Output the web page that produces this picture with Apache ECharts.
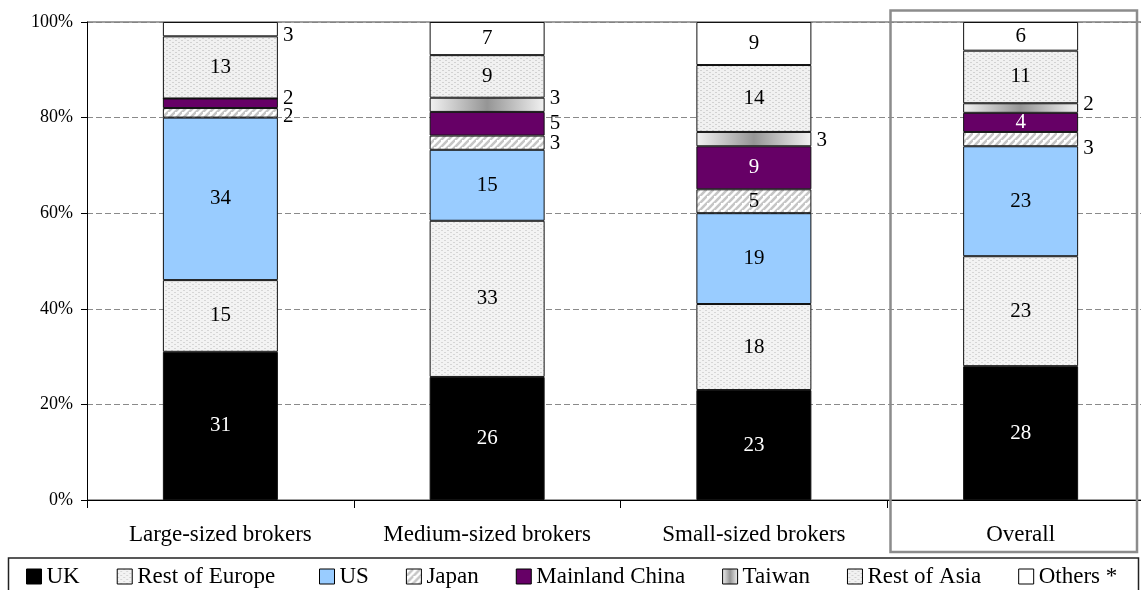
<!DOCTYPE html>
<html>
<head>
<meta charset="utf-8">
<style>
  html, body { margin: 0; padding: 0; background: #fff; overflow: hidden; }
  #chart { width: 1154px; height: 590px; }
</style>
<script src="https://cdn.jsdelivr.net/npm/echarts@6/dist/echarts.min.js"></script>
</head>
<body>
<div id="chart"></div>
<script>
// Broker groups and the share (%) of each region within each group
const categories = ['Large-sized brokers', 'Medium-sized brokers', 'Small-sized brokers', 'Overall'];
const uk            = [31, 26, 23, 28];
const restOfEurope  = [15, 33, 18, 23];
const us            = [34, 15, 19, 23];
const japan         = [2, 3, 5, 3];
const mainlandChina = [2, 5, 9, 4];
const taiwan        = [0, 3, 3, 2];
const restOfAsia    = [13, 9, 14, 11];
const others        = [3, 7, 9, 6];
const yTicks = [0, 20, 40, 60, 80, 100];

const FONT = "'Liberation Serif', 'Times New Roman', serif";

// Fill textures
function stipple(base, dot, shift) {
  const c = document.createElement('canvas');
  c.width = 6; c.height = 4;
  const g = c.getContext('2d');
  g.fillStyle = base; g.fillRect(0, 0, 6, 4);
  g.fillStyle = dot;
  g.fillRect(shift % 6, 0, 2, 1);
  g.fillRect((shift + 3) % 6, 2, 2, 1);
  return { image: c, repeat: 'repeat' };
}
function hatch() {
  const c = document.createElement('canvas');
  c.width = 7; c.height = 7;
  const g = c.getContext('2d');
  g.fillStyle = '#ffffff'; g.fillRect(0, 0, 7, 7);
  g.strokeStyle = '#c6c6c6'; g.lineWidth = 2.6;
  [-7, 0, 7].forEach(x0 => {
    g.beginPath(); g.moveTo(x0, 14); g.lineTo(x0 + 14, 0); g.stroke();
  });
  return { image: c, repeat: 'repeat' };
}
const metalGradient = {
  type: 'linear', x: 0, y: 0, x2: 1, y2: 0,
  colorStops: [
    { offset: 0, color: '#f2f2f2' },
    { offset: 0.5, color: '#959595' },
    { offset: 1, color: '#f2f2f2' }
  ]
};

const seriesDefs = [
  { name: 'UK',             values: uk,            color: '#000000', text: '#ffffff' },
  { name: 'Rest of Europe', values: restOfEurope,  color: stipple('#f3f3f3', '#d6d6d6', 0) },
  { name: 'US',             values: us,            color: '#99ccff' },
  { name: 'Japan',          values: japan,         color: hatch() },
  { name: 'Mainland China', values: mainlandChina, color: '#660066', text: '#ffffff' },
  { name: 'Taiwan',         values: taiwan,        color: metalGradient },
  { name: 'Rest of Asia',   values: restOfAsia,    color: stipple('#f1f1f1', '#d2d2d2', 1) },
  { name: 'Others *',       values: others,        color: '#ffffff' }
];

// Small segments carry their number beside the bar (vertical nudge in px)
const besideBar = {
  'Japan':          { 0: 4, 1: 1, 3: 9 },
  'Mainland China': { 0: -5, 1: 0 },
  'Taiwan':         { 1: -6, 2: 1, 3: -4 },
  'Others *':       { 0: 6 }
};

const totals = categories.map((_, i) => seriesDefs.reduce((s, d) => s + d.values[i], 0));

const series = seriesDefs.map(def => ({
  name: def.name,
  type: 'bar',
  stack: 'share',
  barWidth: 115,
  itemStyle: { color: def.color, borderColor: '#111', borderWidth: 1 },
  emphasis: { disabled: true },
  data: def.values.map((v, i) => {
    const outside = besideBar[def.name] && besideBar[def.name][i] !== undefined;
    return {
      value: v / totals[i] * 100,
      label: {
        show: v > 0,
        formatter: String(v),
        position: outside ? 'right' : 'inside',
        distance: 5,
        offset: outside ? [0, besideBar[def.name][i]] : [0, 0],
        color: outside ? '#000' : (def.text || '#000'),
        fontFamily: FONT,
        fontSize: 21
      }
    };
  })
}));

const legendCommon = {
  top: 565,
  icon: 'rect',
  itemWidth: 15,
  itemHeight: 15,
  itemGap: 37,
  padding: 0,
  selectedMode: false,
  itemStyle: { borderColor: '#000', borderWidth: 1 },
  textStyle: { fontFamily: FONT, fontSize: 23, color: '#000' }
};

const chart = echarts.init(document.getElementById('chart'), null, { renderer: 'canvas' });
chart.setOption({
  animation: false,
  backgroundColor: '#ffffff',
  grid: { left: 87, top: 22, bottom: 90, right: 0 },
  legend: [
    Object.assign({ left: 26, data: ['UK', 'Rest of Europe'] }, legendCommon),
    Object.assign({ left: 319, data: ['US', 'Japan', 'Mainland China', 'Taiwan', 'Rest of Asia', 'Others *'] }, legendCommon)
  ],
  graphic: [
    { type: 'rect', shape: { x: 890.5, y: 10.5, width: 246.5, height: 541.5 },
      style: { fill: 'none', stroke: '#8c8c8c', lineWidth: 2.5 }, z: 1, silent: true },
    { type: 'rect', shape: { x: 8.5, y: 558, width: 1130, height: 40 },
      style: { fill: 'none', stroke: '#222', lineWidth: 1.5 }, z: 1, silent: true }
  ],
  xAxis: {
    type: 'category',
    data: categories,
    axisLine: { lineStyle: { color: '#000', width: 1 } },
    axisTick: { show: true, length: 8, interval: 0, lineStyle: { color: '#000' } },
    axisLabel: { margin: 23, color: '#000', fontFamily: FONT, fontSize: 23, interval: 0 }
  },
  yAxis: [
    {
      type: 'value',
      min: yTicks[0],
      max: yTicks[yTicks.length - 1],
      interval: yTicks[1] - yTicks[0],
      axisLine: { show: true, lineStyle: { color: '#000', width: 1 } },
      axisTick: { show: true, length: 6, lineStyle: { color: '#000' } },
      axisLabel: { margin: 14, color: '#000', fontFamily: FONT, fontSize: 18, formatter: '{value}%' },
      splitLine: { show: true, lineStyle: { color: '#8a8a8a', width: 1, type: [6, 3] } }
    },
    {
      // solid rule along the 100% line
      type: 'value',
      min: 0, max: 100, interval: 100,
      position: 'left',
      axisLine: { show: false }, axisTick: { show: false }, axisLabel: { show: false },
      splitLine: { show: true, lineStyle: { color: '#808080', width: 1.5, type: 'solid' } }
    }
  ],
  series: series
});
</script>
</body>
</html>
